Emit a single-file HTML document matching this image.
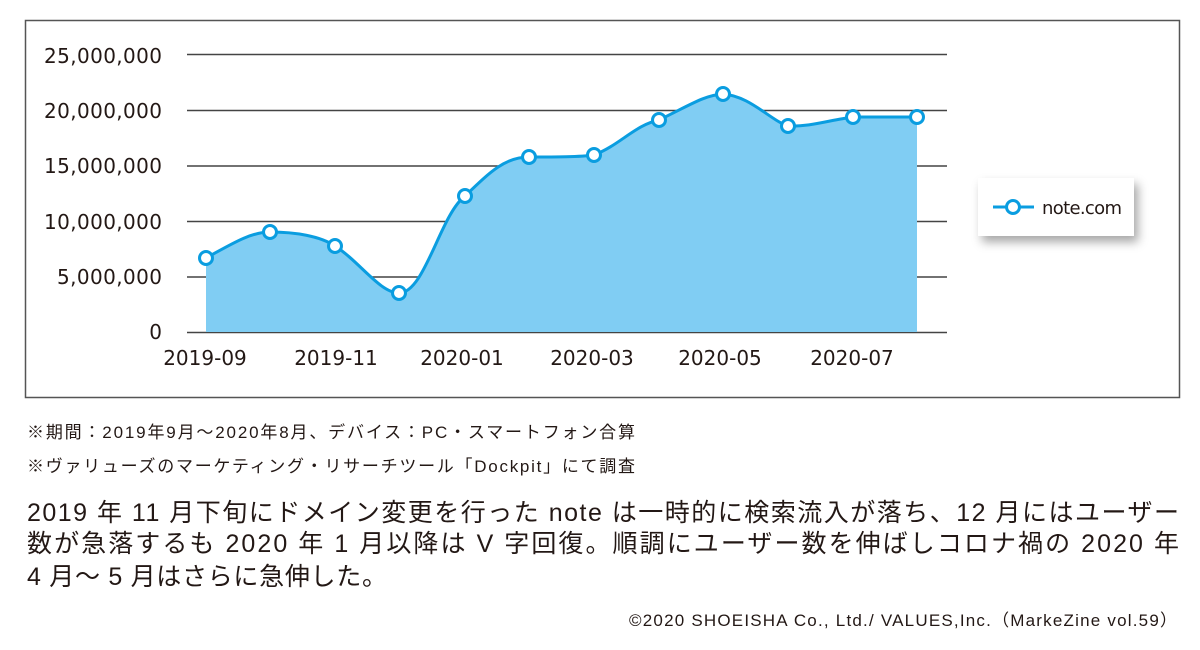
<!DOCTYPE html>
<html><head><meta charset="utf-8"><style>
body{margin:0;width:1200px;height:650px;background:#fff;position:relative;overflow:hidden;font-family:"Liberation Sans","Noto Sans CJK JP",sans-serif;color:#231815}
</style></head><body>
<svg width="1200" height="400" style="position:absolute;left:0;top:0" font-family="'DejaVu Sans','Liberation Sans',sans-serif">
<rect x="25.5" y="20.5" width="1154" height="377" fill="none" stroke="#555" stroke-width="1.5"/>
<g stroke="#444" stroke-width="1.5">
<line x1="187" x2="947" y1="54.5" y2="54.5"/>
<line x1="187" x2="947" y1="110.5" y2="110.5"/>
<line x1="187" x2="947" y1="166" y2="166"/>
<line x1="187" x2="947" y1="221.5" y2="221.5"/>
<line x1="187" x2="947" y1="277" y2="277"/>
<line x1="187" x2="947" y1="332.5" y2="332.5"/>
</g>
<g font-size="20" text-anchor="end" fill="#231815">
<text x="162" y="63" textLength="118">25,000,000</text>
<text x="162" y="118" textLength="118">20,000,000</text>
<text x="162" y="173" textLength="118">15,000,000</text>
<text x="162" y="229" textLength="118">10,000,000</text>
<text x="162" y="284" textLength="105">5,000,000</text>
<text x="162" y="339">0</text>
</g>
<g font-size="20" text-anchor="middle" fill="#231815">
<text x="205" y="365">2019-09</text>
<text x="336" y="365">2019-11</text>
<text x="462" y="365">2020-01</text>
<text x="592" y="365">2020-03</text>
<text x="720" y="365">2020-05</text>
<text x="852" y="365">2020-07</text>
</g>
<path d="M206,258 C230,245 250,232 270,232 C295,232 320,236 335,246 C360,262 380,293 399,293 C425,293 440,215 465,196 C490,172 505,157 529,157 C555,157 580,157 594,155 C620,145 635,125 659,120 C690,105 705,95 723,94 C750,96 770,120 788,126 C810,127 830,120 853,117 L917,117 L917,332 L206,332 Z" fill="#80cdf3"/>
<path d="M206,258 C230,245 250,232 270,232 C295,232 320,236 335,246 C360,262 380,293 399,293 C425,293 440,215 465,196 C490,172 505,157 529,157 C555,157 580,157 594,155 C620,145 635,125 659,120 C690,105 705,95 723,94 C750,96 770,120 788,126 C810,127 830,120 853,117 L917,117" fill="none" stroke="#0a9de0" stroke-width="3"/>
<g fill="#fff" stroke="#0a9de0" stroke-width="3">
<circle cx="206" cy="258" r="6.5"/><circle cx="270" cy="232" r="6.5"/><circle cx="335" cy="246" r="6.5"/><circle cx="399" cy="293" r="6.5"/><circle cx="465" cy="196" r="6.5"/><circle cx="529" cy="157" r="6.5"/><circle cx="594" cy="155" r="6.5"/><circle cx="659" cy="120" r="6.5"/><circle cx="723" cy="94" r="6.5"/><circle cx="788" cy="126" r="6.5"/><circle cx="853" cy="117" r="6.5"/><circle cx="917" cy="117" r="6.5"/>
</g>
<defs><filter id="sh" x="-20%" y="-30%" width="150%" height="180%"><feDropShadow dx="4" dy="6" stdDeviation="5" flood-color="#000" flood-opacity="0.35"/></filter></defs>
<rect x="978" y="178" width="156" height="58" fill="#fff" filter="url(#sh)"/>
<line x1="993" x2="1034" y1="207" y2="207" stroke="#0a9de0" stroke-width="3"/>
<circle cx="1013" cy="207" r="6.5" fill="#fff" stroke="#0a9de0" stroke-width="3"/>
<text x="1042" y="214" font-size="18" fill="#231815" textLength="80">note.com</text>
</svg>
<svg width="1200" height="250" style="position:absolute;left:0;top:400px" font-family="'Liberation Sans','Noto Sans CJK JP',sans-serif" fill="#231815">
<text x="27" y="38" font-size="17" textLength="608" lengthAdjust="spacing">※期間：2019年9月～2020年8月、デバイス：PC・スマートフォン合算</text>
<text x="27" y="72" font-size="17" textLength="608" lengthAdjust="spacing">※ヴァリューズのマーケティング・リサーチツール「Dockpit」にて調査</text>
<text x="27" y="121" font-size="25" textLength="1152" lengthAdjust="spacing">2019 年 11 月下旬にドメイン変更を行った note は一時的に検索流入が落ち、12 月にはユーザー</text>
<text x="27" y="152" font-size="25" textLength="1152" lengthAdjust="spacing">数が急落するも 2020 年 1 月以降は V 字回復。順調にユーザー数を伸ばしコロナ禍の 2020 年</text>
<text x="27" y="185" font-size="25" textLength="360" lengthAdjust="spacing">4 月～ 5 月はさらに急伸した。</text>
<text x="629" y="226" font-size="17" textLength="548" lengthAdjust="spacing">©2020 SHOEISHA Co., Ltd./ VALUES,Inc.（MarkeZine vol.59）</text>
</svg>
</body></html>
